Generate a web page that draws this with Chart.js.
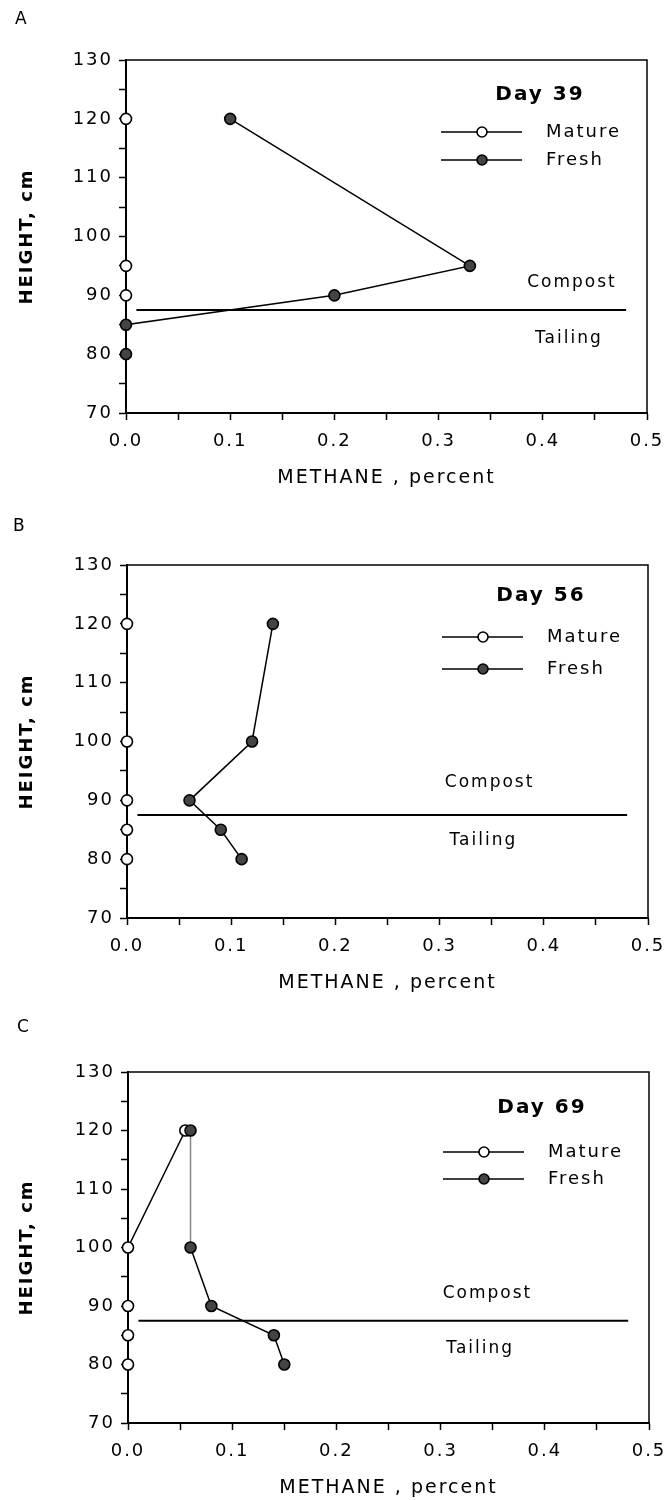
<!DOCTYPE html>
<html>
<head>
<meta charset="utf-8">
<script src="https://cdn.jsdelivr.net/npm/chart.js@4.4.1/dist/chart.umd.min.js"></script>
<style>
  body { margin: 0; background: #fff; }
  canvas { display: block; }
</style>
</head>
<body>
<canvas id="chartA" width="668" height="500"></canvas>
<canvas id="chartB" width="668" height="500"></canvas>
<canvas id="chartC" width="668" height="500"></canvas>
<script>
// data

const days = [39, 56, 69];
const panelLetters = ["A", "B", "C"];
const seriesNames = ["Mature", "Fresh"];

const matureHeightA = [120, 95, 90];
const matureMethaneA = [0, 0, 0];
const freshHeightA = [120, 95, 90, 85, 80];
const freshMethaneA = [0.10, 0.33, 0.20, 0, 0];

const matureHeightB = [120, 100, 90, 85, 80];
const matureMethaneB = [0, 0, 0, 0, 0];
const freshHeightB = [120, 100, 90, 85, 80];
const freshMethaneB = [0.14, 0.12, 0.06, 0.09, 0.11];

const matureHeightC = [120, 100, 90, 85, 80];
const matureMethaneC = [0.055, 0, 0, 0, 0];
const freshHeightC = [120, 100, 90, 85, 80];
const freshMethaneC = [0.06, 0.06, 0.08, 0.14, 0.15];

// compost / tailing interface
const boundaryMethane = [0.01, 0.48];
const boundaryHeight = 87.5;

const heightTicks = [70, 80, 90, 100, 110, 120, 130];
const methaneTicks = [0.0, 0.1, 0.2, 0.3, 0.4, 0.5];

const FONT = '"DejaVu Sans", sans-serif';
const SPACING = '2px';

// layout of each panel (not data)
const panels = [
  { id: "chartA", left: 126, pad: { top: 60, left: 0, right: 21, bottom: 11 },
    letterAt: [15, 20], legendDy: [35, 72, 100],
    compostAt: [0.428, 92.1], tailingAt: [0.425, 82.6],
    mature: [matureMethaneA, matureHeightA], fresh: [freshMethaneA, freshHeightA] },
  { id: "chartB", left: 127, pad: { top: 65, left: 0, right: 20, bottom: 6 },
    letterAt: [13, 27], legendDy: [31, 72, 104],
    compostAt: [0.348, 93.1], tailingAt: [0.342, 83.2],
    mature: [matureMethaneB, matureHeightB], fresh: [freshMethaneB, freshHeightB] },
  { id: "chartC", left: 128, pad: { top: 72, left: 0, right: 19, bottom: 1 },
    letterAt: [17, 28], legendDy: [36, 80, 107],
    compostAt: [0.345, 92.2], tailingAt: [0.338, 82.8], lightFirst: true,
    mature: [matureMethaneC, matureHeightC], fresh: [freshMethaneC, freshHeightC] }
];

function points(xs, ys) {
  return xs.map((v, i) => ({ x: v, y: ys[i] }));
}

const decor = {
  id: 'decor',
  beforeDraw(chart) {
    chart.ctx.letterSpacing = SPACING;
  },
  afterDraw(chart, args, o) {
    const { ctx, chartArea: a, scales: { x, y } } = chart;
    ctx.save();
    ctx.letterSpacing = SPACING;
    // frame top + right
    ctx.strokeStyle = '#000';
    ctx.lineWidth = 1.5;
    ctx.beginPath();
    ctx.moveTo(a.left, a.top);
    ctx.lineTo(a.right, a.top);
    ctx.lineTo(a.right, a.bottom);
    ctx.stroke();

    ctx.fillStyle = '#000';
    ctx.textBaseline = 'middle';

    // panel letter
    ctx.textAlign = 'left';
    ctx.font = '17px ' + FONT;
    ctx.fillText(o.letter, o.letterAt[0], o.letterAt[1]);

    // day title
    ctx.textAlign = 'center';
    ctx.font = 'bold 20px ' + FONT;
    ctx.fillText('Day ' + o.day, a.right - 107, a.top + o.legendDy[0]);

    // legend rows
    ctx.font = '18px ' + FONT;
    ctx.textAlign = 'left';
    seriesNames.forEach((name, i) => {
      const ry = a.top + o.legendDy[i + 1];
      ctx.lineWidth = 1.5;
      ctx.strokeStyle = '#000';
      ctx.beginPath();
      ctx.moveTo(a.right - 206, ry);
      ctx.lineTo(a.right - 125, ry);
      ctx.stroke();
      ctx.beginPath();
      ctx.arc(a.right - 165, ry, 5, 0, Math.PI * 2);
      ctx.fillStyle = i === 0 ? '#fff' : '#444';
      ctx.fill();
      ctx.lineWidth = 1.6;
      ctx.stroke();
      ctx.fillStyle = '#000';
      ctx.fillText(name, a.right - 101, ry);
    });

    // layer labels
    ctx.textAlign = 'center';
    ctx.font = '17px ' + FONT;
    ctx.fillText('Compost', x.getPixelForValue(o.compostAt[0]), y.getPixelForValue(o.compostAt[1]));
    ctx.fillText('Tailing', x.getPixelForValue(o.tailingAt[0]), y.getPixelForValue(o.tailingAt[1]));
    ctx.restore();
  }
};

panels.forEach((p, k) => {
  const freshSegment = p.lightFirst ? {
    borderColor: c => c.p0DataIndex === 0 ? '#888' : '#000',
    borderDash: c => c.p0DataIndex === 0 ? [2, 1] : undefined
  } : {};

  new Chart(document.getElementById(p.id), {
    type: 'scatter',
    data: {
      datasets: [
        {
          label: seriesNames[1],
          data: points(p.fresh[0], p.fresh[1]),
          showLine: true,
          borderColor: '#000',
          borderWidth: 1.5,
          pointRadius: 5.5,
          pointBackgroundColor: '#444',
          pointBorderColor: '#000',
          pointBorderWidth: 1.6,
          segment: freshSegment,
          clip: false,
          order: 0
        },
        {
          label: seriesNames[0],
          data: points(p.mature[0], p.mature[1]),
          showLine: true,
          borderColor: '#000',
          borderWidth: 1.5,
          pointRadius: 5.5,
          pointBackgroundColor: '#fff',
          pointBorderColor: '#000',
          pointBorderWidth: 1.6,
          clip: false,
          order: 1
        },
        {
          label: 'interface',
          data: boundaryMethane.map(v => ({ x: v, y: boundaryHeight })),
          showLine: true,
          borderColor: '#000',
          borderWidth: 2,
          pointRadius: 0,
          order: 2
        }
      ]
    },
    options: {
      responsive: false,
      devicePixelRatio: 1,
      animation: false,
      layout: { padding: p.pad },
      plugins: {
        legend: { display: false },
        tooltip: { enabled: false },
        decor: {
          letter: panelLetters[k],
          day: days[k],
          letterAt: p.letterAt,
          legendDy: p.legendDy,
          compostAt: p.compostAt,
          tailingAt: p.tailingAt
        }
      },
      scales: {
        x: {
          type: 'linear',
          min: 0,
          max: 0.5,
          afterFit: s => { s.height = 76; s.paddingLeft = 0; s.paddingRight = 0; },
          ticks: {
            stepSize: 0.05,
            autoSkip: false,
            maxRotation: 0,
            padding: 11,
            color: '#000',
            font: { family: FONT, size: 18 },
            callback: v => methaneTicks.some(t => Math.abs(t - v) < 1e-6) ? v.toFixed(1) : ''
          },
          grid: { drawOnChartArea: false, tickLength: 7, color: '#000', tickWidth: 1.5 },
          border: { color: '#000', width: 2 },
          title: {
            display: true,
            text: 'METHANE , percent',
            color: '#000',
            font: { family: FONT, size: 19 },
            padding: { top: 0, bottom: 0 }
          }
        },
        y: {
          min: 70,
          max: 130,
          afterFit: s => { s.width = p.left; s.paddingTop = 0; s.paddingBottom = 0; },
          ticks: {
            stepSize: 5,
            autoSkip: false,
            padding: 6,
            color: '#000',
            font: { family: FONT, size: 18 },
            callback: v => heightTicks.includes(v) ? v : ''
          },
          grid: { drawOnChartArea: false, tickLength: 7, color: '#000', tickWidth: 1.5 },
          border: { color: '#000', width: 2 },
          title: {
            display: true,
            text: 'HEIGHT, cm',
            color: '#000',
            font: { family: FONT, size: 18, weight: 'bold' },
            padding: { top: 17, bottom: 0 }
          }
        }
      }
    },
    plugins: [decor]
  });
});
</script>
</body>
</html>
